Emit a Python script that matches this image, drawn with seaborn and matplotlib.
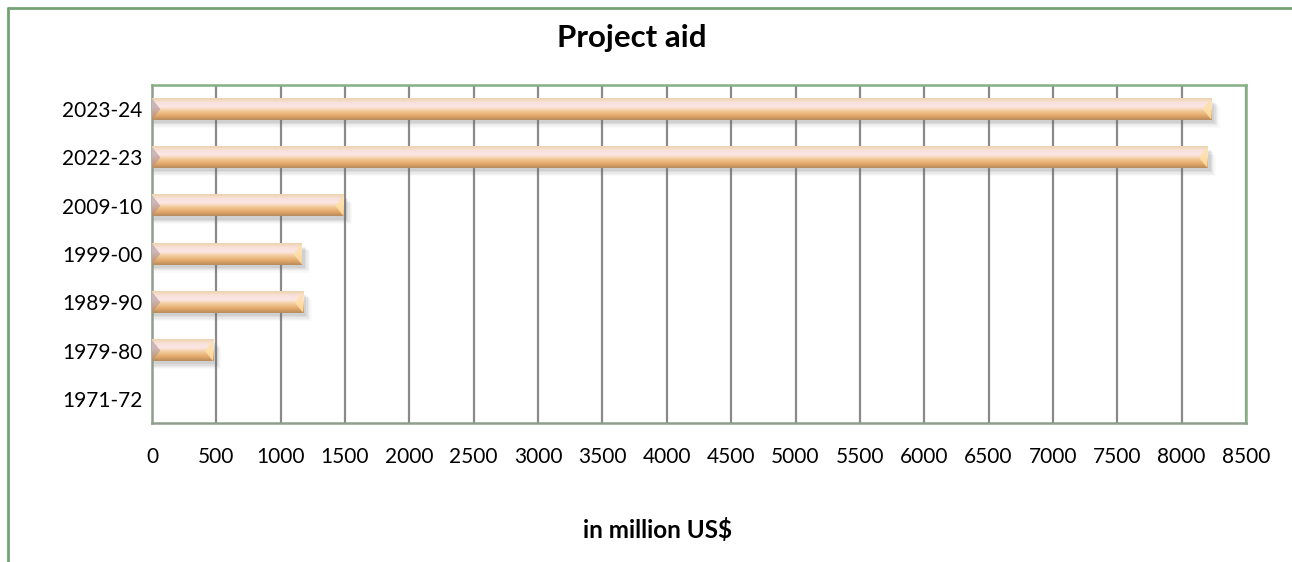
#!/usr/bin/env python3

import matplotlib

matplotlib.use("Agg")
import matplotlib.pyplot as plt
import numpy as np
import pandas
import seaborn as sns
from matplotlib.colors import LinearSegmentedColormap
from matplotlib.lines import Line2D
from matplotlib.patches import Polygon, Rectangle

# Data, top to bottom as shown
years = ["2023-24", "2022-23", "2009-10", "1999-00", "1989-90", "1979-80", "1971-72"]
aid = [8230, 8200, 1490, 1165, 1175, 475, 0]
xticks = list(range(0, 8501, 500))

title = "Project aid"
xlabel = "in million US$"


def decorate_bars(ax):
    """
    Replace the flat bars with a tube-like gradient, bevelled ends and a soft shadow.
    """
    cmap = LinearSegmentedColormap.from_list(
        "tube",
        ["#edd3ae", "#f8e2dc", "#fce6e4", "#f2c895", "#e4aa6a", "#b88a5c"],
    )
    grad = np.linspace(0, 1, 64).reshape(-1, 1)
    for patch in list(ax.patches):
        x, y = patch.get_x(), patch.get_y()
        w, h = patch.get_width(), patch.get_height()
        patch.set_visible(False)
        if w <= 0:
            continue
        # soft shadow below the bar
        for i, a in enumerate([0.11, 0.09, 0.07, 0.05, 0.03]):
            ax.add_patch(
                Rectangle(
                    (x + 10, y + h * 0.15 + i * 0.025),
                    w + 15 + i * 10,
                    h,
                    facecolor="#707070",
                    edgecolor="none",
                    alpha=a,
                    zorder=2,
                )
            )
        ax.imshow(
            grad,
            extent=[x, x + w, y + h, y],
            cmap=cmap,
            aspect="auto",
            zorder=3,
            interpolation="bicubic",
        )
        bevel = 65
        ax.add_patch(
            Polygon(
                [(x, y), (x + bevel, y + h / 2), (x, y + h)],
                closed=True,
                facecolor="#a78f9a",
                edgecolor="none",
                alpha=0.55,
                zorder=4,
            )
        )
        ax.add_patch(
            Polygon(
                [(x + w, y), (x + w - bevel, y + h / 2), (x + w, y + h)],
                closed=True,
                facecolor="#ffe0a8",
                edgecolor="none",
                alpha=0.85,
                zorder=4,
            )
        )


def main():
    df = pandas.DataFrame({"year": years, "aid": aid})

    sns.set_style("white")
    plt.rcParams["font.family"] = ["Lato", "DejaVu Sans"]
    plt.rcParams["text.color"] = "black"
    plt.rcParams["xtick.color"] = "black"
    plt.rcParams["ytick.color"] = "black"

    fig = plt.figure(figsize=(12.92, 5.62), dpi=100)
    ax = fig.add_axes([0.1176, 0.2473, 0.9644 - 0.1176, 0.8488 - 0.2473])

    sns.barplot(data=df, x="aid", y="year", order=years, orient="h", width=0.44,
                color="#e8b070", ax=ax)
    decorate_bars(ax)

    ax.set_xlim(0, 8500)
    ax.set_ylim(len(years) - 0.5, -0.5)
    ax.set_xticks(xticks)
    ax.set_xticklabels([str(t) for t in xticks], fontsize=15)
    ax.set_yticks(range(len(years)))
    ax.set_yticklabels(years, fontsize=15)
    ax.tick_params(axis="x", length=0, pad=17)
    ax.tick_params(axis="y", length=0, pad=7)
    ax.set_xlabel("")
    ax.set_ylabel("")

    ax.grid(False)
    for t in xticks[1:]:
        ax.axvline(t, color="#8a8a8a", lw=1.6, zorder=1)

    for side in ["top", "right"]:
        ax.spines[side].set_color("#84b084")
    for side in ["left", "bottom"]:
        ax.spines[side].set_color("#8f9f8f")
    for sp in ax.spines.values():
        sp.set_linewidth(1.8)
        sp.set_visible(True)

    fig.text(632 / 1292, 1 - 38 / 562, title, fontsize=22.5, fontweight="bold",
             ha="center", va="center")
    fig.text(658 / 1292, 1 - 530 / 562, xlabel, fontsize=17.5, fontweight="bold",
             ha="center", va="center")

    # outer chart frame (left and top edges visible)
    fig.add_artist(Line2D([7.5 / 1292, 7.5 / 1292], [0, 1 - 8 / 562],
                          color="#74a474", lw=2, transform=fig.transFigure))
    fig.add_artist(Line2D([7.5 / 1292, 1], [1 - 8 / 562, 1 - 8 / 562],
                          color="#74a474", lw=2, transform=fig.transFigure))

    fig.savefig("out.png", dpi=100)


if __name__ == "__main__":
    main()
